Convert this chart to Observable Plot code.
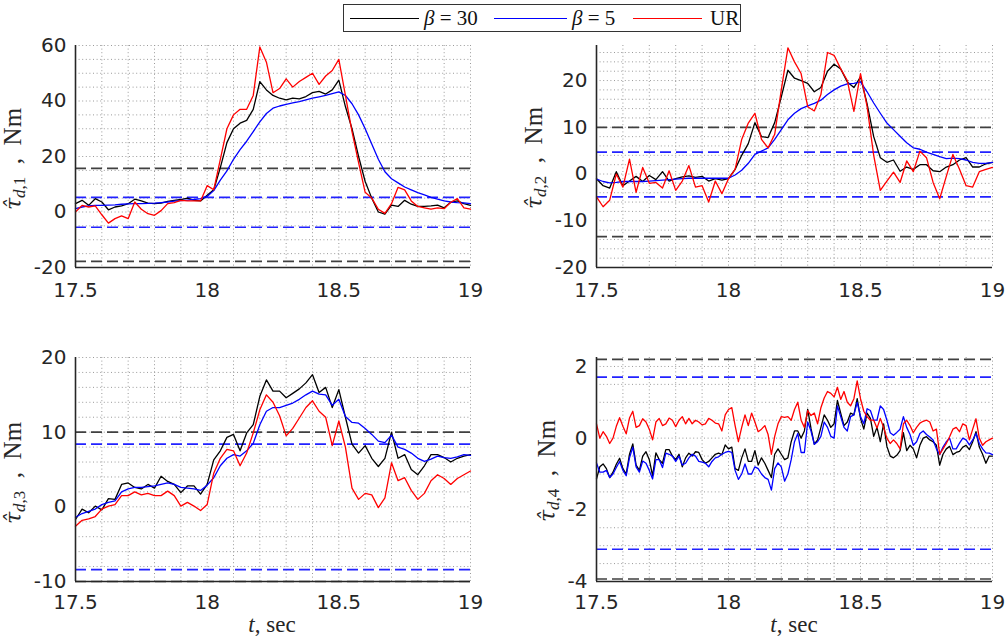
<!DOCTYPE html>
<html><head><meta charset="utf-8">
<script src="https://cdn.jsdelivr.net/npm/d3@7"></script>
<script src="https://cdn.jsdelivr.net/npm/@observablehq/plot@0.6"></script>
<style>
body{margin:0;background:#fff;}
#wrap{position:relative;width:1008px;height:642px;overflow:hidden;background:#fff;}
#legend{position:absolute;z-index:10;left:343px;top:4px;width:396px;height:26px;border:1.5px solid #333;background:#fff;font-family:"Liberation Serif","DejaVu Serif",serif;font-size:21px;color:#111;}
#legend .ln{position:absolute;top:13px;height:0;border-top:1.4px solid;}
#legend .tx{position:absolute;top:0px;line-height:26px;white-space:pre;}
</style></head>
<body><div id="wrap"><div id="legend"></div></div>
<script>
// ---------- shared axes ----------
const xTicks = [17.5, 18, 18.5, 19];
const xGrid = [17.5,17.6,17.7,17.8,17.9,18,18.1,18.2,18.3,18.4,18.5,18.6,18.7,18.8,18.9,19];
const seriesNames = ["β = 30", "β = 5", "UR"];
const seriesColors = ["#000000", "#0000ff", "#ff0000"];

// time samples (panels 1-3)
const tA = [17.5,17.525,17.55,17.575,17.6,17.625,17.65,17.675,17.7,17.725,17.75,17.775,17.8,17.825,17.85,17.875,17.9,17.925,17.95,17.975,18,18.025,18.05,18.075,18.1,18.125,18.15,18.175,18.2,18.225,18.25,18.275,18.3,18.325,18.35,18.375,18.4,18.425,18.45,18.475,18.5,18.525,18.55,18.575,18.6,18.625,18.65,18.675,18.7,18.725,18.75,18.775,18.8,18.825,18.85,18.875,18.9,18.925,18.95,18.975,19];
// time samples (panel 4)
const tB = [17.5,17.5125,17.525,17.5375,17.55,17.5625,17.575,17.5875,17.6,17.6125,17.625,17.6375,17.65,17.6625,17.675,17.6875,17.7,17.7125,17.725,17.7375,17.75,17.7625,17.775,17.7875,17.8,17.8125,17.825,17.8375,17.85,17.8625,17.875,17.8875,17.9,17.9125,17.925,17.9375,17.95,17.9625,17.975,17.9875,18,18.0125,18.025,18.0375,18.05,18.0625,18.075,18.0875,18.1,18.1125,18.125,18.1375,18.15,18.1625,18.175,18.1875,18.2,18.2125,18.225,18.2375,18.25,18.2625,18.275,18.2875,18.3,18.3125,18.325,18.3375,18.35,18.3625,18.375,18.3875,18.4,18.4125,18.425,18.4375,18.45,18.4625,18.475,18.4875,18.5,18.5125,18.525,18.5375,18.55,18.5625,18.575,18.5875,18.6,18.6125,18.625,18.6375,18.65,18.6625,18.675,18.6875,18.7,18.7125,18.725,18.7375,18.75,18.7625,18.775,18.7875,18.8,18.8125,18.825,18.8375,18.85,18.8625,18.875,18.8875,18.9,18.9125,18.925,18.9375,18.95,18.9625,18.975,18.9875,19];

// ---------- panel 1 ----------
const p1Black = [3,4.2,2.4,4.8,3.6,0.8,1.8,2.2,3.0,4.6,4.0,3.2,3.0,3.2,3.8,4.2,4.5,5.0,4.2,4.0,6.0,8.0,16,25,30,32,33,37,47,44,42,41,40.4,41,40.8,41.6,43,43.5,42.5,44,47.5,38,30,20,11,5,0,-0.8,2.5,2.0,4.2,2.8,2.0,2.0,2.2,2.5,1.5,3.5,4.0,3.0,2.4];
const p1Blue = [1.2,1.8,2.2,2.4,2.4,2.5,2.6,2.8,2.9,3.0,3.0,3.1,3.2,3.4,3.6,3.9,4.1,4.3,4.5,4.8,5.6,7.7,11.5,14.8,19,22.5,25.5,29,32.5,35.5,37.4,38.2,38.8,39.3,39.8,40.4,41,41.5,42,42.7,43.3,42,39,35,30,24.5,19,14.5,12,10.5,9,8,7,6.2,5.3,4.6,4.0,3.6,3.4,3.3,3.0];
const p1Red = [0,2.4,1.8,2.2,-1,-4,-2.4,-1.4,-2.4,3.6,1.0,-0.6,-1.2,0.5,3.0,3.4,4.2,4.0,4.0,4.0,9.5,8,19,30,35,37,37,42,59.5,54,43,44.5,48,45,47,48.5,50,46,49,51,55,42,29,17.8,7.1,5,1.0,-0.5,3,8.9,8.0,4.0,2.0,1.5,1.0,1.5,1.2,3.5,4.8,1.5,1.0];
const p1Limits30 = [15.7, -17.8];
const p1Limits5 = [5.3, -5.5];
const p1YTicks = [-20, 0, 20, 40, 60];
const p1YGrid = [-20,-15,-10,-5,0,5,10,15,20,25,30,35,40,45,50,55,60];

// ---------- panel 2 ----------
const p2Black = [-1,-2.5,-3.0,0.5,-2.5,-1.5,-0.5,-1.6,-0.3,-1.2,0.5,-1.5,-1.0,-0.6,-0.4,-0.7,-0.5,-1.5,-1.0,-1.3,-1.0,1.0,4.0,6.5,11.0,8.0,7.8,11,16.5,22.2,20.5,20,19.4,17.6,18.5,22,23.5,22.5,19.7,18.5,20.8,15,8,3.5,2.5,3.0,0.6,1.5,1.0,2.0,2.0,0.7,0.5,1.5,2.0,3.0,3.5,1.5,1.5,2.2,2.5];
const p2Blue = [-1.1,-1.6,-1.9,-1.8,-1.6,-1.6,-1.6,-1.6,-1.5,-1.4,-1.3,-1.2,-1.1,-1.0,-0.9,-0.9,-0.9,-0.9,-0.9,-0.9,-0.9,-0.2,0.8,2.3,4.2,4.9,5.6,7.4,9.5,11.6,13,14.0,14.6,15.1,15.8,17,18.0,18.8,19.3,19.4,19.7,17.6,15.2,13,10.9,9.5,8.1,6.7,5.6,5.3,4.7,4.2,3.7,3.3,3.4,3.3,3.0,2.5,2.3,2.3,2.5];
const p2Red = [-4.9,-7,-5.6,0,-2.8,3.2,-3.9,1.4,-2.0,-1.8,-3.0,0.7,-3.5,-1.5,1.8,-2.8,-2.5,-6,-1.5,-4.2,-1.0,1.0,7.4,10.9,13,7.4,5.6,8.5,18,27,24,21.5,14.4,13.5,17,26,25.4,22.5,20,13.4,21.5,14.4,4,-3.5,-1.5,0.4,-1.8,2.8,0.5,4.9,3.5,-1.8,-5.3,-0.5,4.2,1.0,-2.5,-2.8,0.5,1.0,1.4];
const p2Limits30 = [10.0, -13.4];
const p2Limits5 = [4.7, -4.9];
const p2YTicks = [-20, -10, 0, 10, 20];
const p2YGrid = [-20,-18,-16,-14,-12,-10,-8,-6,-4,-2,0,2,4,6,8,10,12,14,16,18,20,22,24,26];

// ---------- panel 3 ----------
const p3Black = [-1.7,-0.3,-0.8,0.1,-0.4,1.1,1.0,3.0,3.2,2.6,2.4,3.0,2.5,4.1,3.4,3.0,1.9,2.8,2.8,1.7,3.0,6.3,7.5,9.3,9.7,7.5,9.9,11,14.8,17,15.5,15.5,14.6,15.2,15.8,16.6,17.7,15.3,16,13.3,15.7,12,8.4,7.2,8.2,6.5,5.4,6.5,10.0,6.5,7,5,4.3,5.5,7,7,6.6,6.0,6.5,6.8,7];
const p3Blue = [-1.4,-0.9,-0.6,-0.3,0.3,0.6,0.8,2.0,2.4,2.6,2.6,2.7,2.8,3.0,3.2,3.0,2.6,2.5,2.4,2.2,2.9,3.9,5.5,6.5,7,6.8,7.5,8.5,11,12.8,13.3,13.3,13.6,13.9,14.4,15,15.5,15.1,15,13.6,14.4,12.1,11.3,11.2,10.5,9.7,8.8,8.6,9.6,8,7.7,7.2,6.5,6.1,6.4,6.8,6.6,6.5,6.7,7,6.9];
const p3Red = [-2.6,-1.8,-1.6,-1.3,-0.3,0.1,0.3,1.5,1.5,2.0,1.6,1.8,1.5,1.5,2.1,1.5,0.1,0.6,0.1,-0.5,0.3,4.5,6.5,7.7,7.5,5.5,7.2,9.9,13,15,14.0,12.2,9.5,10.5,11.9,13.3,14.2,12.8,12,8.2,11.5,8,2.5,1.0,1.8,1.6,-0.1,1.2,5.9,3.5,3.9,2.2,1.0,1.8,3.5,4.3,3.8,3.0,3.8,4.3,4.8];
const p3Limits30 = [10, -10];
const p3Limits5 = [8.4, -8.4];
const p3YTicks = [-10, 0, 10, 20];
const p3YGrid = [-10,-8,-6,-4,-2,0,2,4,6,8,10,12,14,16,18,20];

// ---------- panel 4 ----------
const p4Black = [-1.14,-0.8,-0.72,-0.85,-1.1,-0.95,-0.73,-0.56,-0.85,-1.0,-0.45,-0.16,-0.75,-0.9,-0.5,-0.38,-0.6,-1.05,-0.41,-0.6,-0.7,-0.32,-0.32,-0.5,-0.6,-0.45,-0.8,-0.55,-0.42,-0.5,-0.38,-0.4,-0.6,-0.7,-0.65,-0.55,-0.45,-0.42,-0.46,-0.19,-0.3,-0.25,-0.85,-0.9,-0.55,-0.3,-0.65,-0.65,-0.35,-0.75,-0.55,-0.7,-0.9,-1.1,-0.45,-0.3,-0.45,-0.6,-0.55,-0.1,0.2,
  0.2,0.0,0.2,0.8,0.27,-0.17,-0.05,0.3,0.65,0.5,0.3,0.4,1.05,0.7,0.35,0.45,0.7,0.65,1.1,0.55,0.25,0.7,0.55,0.05,0.3,-0.1,0.4,-0.23,-0.5,-0.55,-0.48,-0.35,0.15,-0.35,-0.2,-0.3,-0.55,-0.2,0.0,0.04,-0.05,-0.1,-0.2,-0.75,-0.45,-0.3,-0.23,-0.46,-0.4,-0.37,-0.25,-0.2,-0.32,-0.1,0.18,-0.25,-0.45,-0.7,-0.5,-0.5];
const p4Blue = [-0.69,-0.95,-0.95,-0.9,-1.1,-1.0,-0.82,-0.65,-0.9,-1.05,-0.55,-0.25,-0.8,-0.95,-0.64,-0.7,-0.9,-1.14,-0.6,-0.6,-0.82,-0.42,-0.45,-0.5,-0.65,-0.5,-0.75,-0.7,-0.55,-0.45,-0.5,-0.65,-0.67,-0.7,-0.8,-0.65,-0.55,-0.52,-0.45,-0.4,-0.37,-0.4,-0.9,-1.15,-1.0,-0.72,-1.0,-1.0,-0.8,-0.85,-1.0,-1.1,-1.15,-1.45,-0.85,-0.69,-0.8,-1.2,-1.0,-0.6,-0.1,
  0.13,-0.4,-0.4,0.45,0.2,-0.17,-0.1,0.05,0.45,0.3,0.05,0.0,0.9,0.6,0.3,0.2,0.6,0.65,1.0,0.6,0.4,0.82,0.77,0.5,0.5,0.9,0.8,0.5,0.15,0.08,0.16,0.25,0.6,0.3,0.1,-0.2,-0.1,0.13,0.2,0.1,0.03,-0.05,-0.3,-0.46,-0.25,-0.1,0.0,-0.3,-0.3,-0.14,0.0,-0.05,-0.19,-0.05,0.13,-0.15,-0.3,-0.41,-0.42,-0.46];
const p4Red = [0.4,0.0,0.18,0.05,-0.15,0.0,0.33,0.57,0.33,0.12,0.56,0.75,0.3,0.35,0.54,0.45,0.25,-0.05,0.45,0.55,0.35,0.4,0.56,0.5,0.32,0.5,0.6,0.4,0.55,0.4,0.5,0.45,0.37,0.4,0.55,0.5,0.42,0.4,0.2,0.65,0.8,0.85,0.35,-0.1,0.3,0.65,0.35,0.7,0.45,0.18,0.25,0.35,0.1,-0.45,0.05,0.4,0.6,0.58,0.6,0.5,0.8,
  1.0,0.5,0.3,0.77,0.63,0.7,0.4,0.85,1.12,1.3,1.25,1.15,1.42,1.08,1.3,1.0,0.9,1.1,1.6,1.1,0.75,0.6,0.5,0.5,0.28,0.55,0.3,0.0,-0.15,-0.05,-0.15,-0.3,0.4,0.5,0.35,0.15,0.3,0.42,0.47,0.5,0.45,0.2,0.25,-0.45,-0.3,-0.15,0.04,0.25,0.3,0.18,0.4,0.35,-0.05,0.25,0.54,0.0,-0.2,-0.1,-0.05,0.0];
const p4Limits30 = [2.2, -3.93];
const p4Limits5 = [1.7, -3.1];
const p4YTicks = [-4, -2, 0, 2];
const p4YGrid = [-4,-3.5,-3,-2.5,-2,-1.5,-1,-0.5,0,0.5,1,1.5,2];

// ---------- drawing ----------
const wrap = document.getElementById("wrap");

function makePanel(o) {
  const series = [o.black, o.blue, o.red];
  const rows = series.map(vals => vals.map((v, i) => ({t: o.t[i], v})));
  const svg = Plot.plot({
    width: o.width, height: 321,
    marginLeft: o.ml, marginRight: o.mr, marginTop: o.mt, marginBottom: o.mb,
    style: {fontFamily: "'DejaVu Sans', sans-serif", fontSize: "20px", color: "#262626", background: "white", overflow: "visible"},
    x: {domain: [17.5, 19], ticks: xTicks, tickFormat: d => String(d), tickSize: 0, tickPadding: o.xpad, label: null},
    y: {domain: o.ydom, ticks: o.yticks, tickFormat: d => String(d), tickSize: 0, tickPadding: 9, label: null},
    marks: [
      Plot.ruleX(xGrid, {stroke: "#9a9a9a", strokeDasharray: "1,2.6", strokeWidth: 1}),
      Plot.ruleY(o.ygrid, {stroke: "#9a9a9a", strokeDasharray: "1,2.6", strokeWidth: 1}),
      Plot.ruleY(o.lim30, {stroke: "#404040", strokeDasharray: "11,5", strokeWidth: 1.7}),
      Plot.ruleY(o.lim5, {stroke: "#2222ff", strokeDasharray: "11,5", strokeWidth: 1.7}),
      ...rows.map((r, i) => Plot.line(r, {x: "t", y: "v", stroke: seriesColors[i], strokeWidth: 1.3})),
      Plot.ruleX([17.5], {stroke: "#262626", strokeWidth: 1.6}),
      Plot.ruleY([o.ydom[0]], {stroke: "#262626", strokeWidth: 1.6})
    ]
  });
  svg.style.position = "absolute";
  svg.style.left = o.left + "px";
  svg.style.top = o.top + "px";
  const s = d3.select(svg);
  // y label
  const yl = s.append("text")
    .attr("transform", `translate(${o.ylx},${o.yly}) rotate(-90)`)
    .attr("text-anchor", "middle").attr("dominant-baseline", "middle")
    .attr("fill", "#262626")
    .style("font-family", "'Liberation Serif','DejaVu Serif',serif").style("font-size", "25px");
  yl.append("tspan").style("font-style", "italic").style("font-family", "'DejaVu Serif',serif").style("font-size", "22px").text("\u03C4\u0302");
  yl.append("tspan").attr("dy", 6).style("font-size", "17px").style("font-style", "italic").text("d");
  yl.append("tspan").style("font-size", "17px").text("," + o.idx);
  yl.append("tspan").attr("dy", -6).text("\u2002,\u2002Nm");
  if (o.xlabel) {
    const xl = s.append("text")
      .attr("x", o.xlx).attr("y", 306)
      .attr("text-anchor", "middle").attr("dominant-baseline", "middle")
      .attr("fill", "#262626")
      .style("font-family", "'Liberation Serif','DejaVu Serif',serif").style("font-size", "23px");
    xl.append("tspan").style("font-style", "italic").text("t");
    xl.append("tspan").text(", sec");
  }
  wrap.appendChild(svg);
}

makePanel({idx: 1, t: tA, black: p1Black, blue: p1Blue, red: p1Red, lim30: p1Limits30, lim5: p1Limits5,
  ydom: [-20, 60], yticks: p1YTicks, ygrid: p1YGrid, left: 0, top: 0, width: 504,
  ml: 75, mr: 34, mt: 45, mb: 54, xpad: 15, ylx: 15, yly: 159});
makePanel({idx: 2, t: tA, black: p2Black, blue: p2Blue, red: p2Red, lim30: p2Limits30, lim5: p2Limits5,
  ydom: [-20, 27.5], yticks: p2YTicks, ygrid: p2YGrid, left: 504, top: 0, width: 504,
  ml: 92, mr: 16, mt: 45, mb: 54, xpad: 15, ylx: 32, yly: 158});
makePanel({idx: 3, t: tA, black: p3Black, blue: p3Blue, red: p3Red, lim30: p3Limits30, lim5: p3Limits5,
  ydom: [-10, 20], yticks: p3YTicks, ygrid: p3YGrid, left: 0, top: 321, width: 504,
  ml: 75, mr: 34, mt: 36, mb: 61, xpad: 13, ylx: 15, yly: 152, xlabel: true, xlx: 272});
makePanel({idx: 4, t: tB, black: p4Black, blue: p4Blue, red: p4Red, lim30: p4Limits30, lim5: p4Limits5,
  ydom: [-4, 2.25], yticks: p4YTicks, ygrid: p4YGrid, left: 504, top: 321, width: 504,
  ml: 92, mr: 16, mt: 36, mb: 61, xpad: 13, ylx: 45, yly: 150, xlabel: true, xlx: 290});

// ---------- legend ----------
const legend = document.getElementById("legend");
const legendLayout = [{l: 6, w: 69, tx: 80}, {l: 150, w: 73, tx: 228}, {l: 289, w: 69, tx: 366}];
seriesNames.forEach((name, i) => {
  const ln = document.createElement("div");
  ln.className = "ln";
  ln.style.left = legendLayout[i].l + "px";
  ln.style.width = legendLayout[i].w + "px";
  ln.style.borderTopColor = seriesColors[i];
  legend.appendChild(ln);
  const tx = document.createElement("div");
  tx.className = "tx";
  tx.style.left = legendLayout[i].tx + "px";
  if (name.startsWith("β")) {
    tx.innerHTML = "<i>β</i>" + name.slice(1);
  } else {
    tx.textContent = name;
  }
  legend.appendChild(tx);
});
</script>
</body></html>
